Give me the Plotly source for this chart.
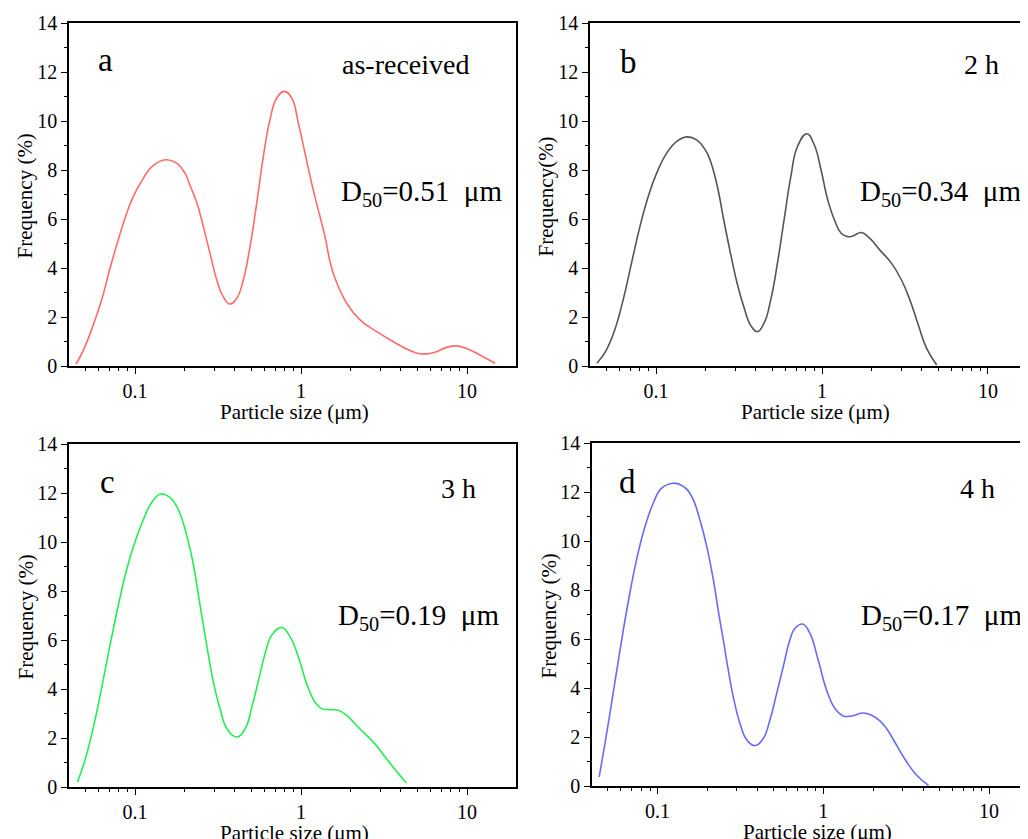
import plotly.graph_objects as go

# ---- data (particle size in µm, frequency in %) ----
a_size = [0.0441, 0.0489, 0.0561, 0.0630, 0.0707, 0.0793, 0.0871, 0.0977, 0.1123, 0.1289, 0.1530,
          0.1782, 0.2000, 0.214, 0.236, 0.258, 0.283, 0.311, 0.340, 0.373, 0.410, 0.449, 0.493,
          0.541, 0.593, 0.650, 0.714, 0.794, 0.879, 0.964, 1.057, 1.159, 1.270, 1.395, 1.495,
          1.603, 1.884, 2.267, 2.856, 3.599, 4.535, 5.333, 6.268, 7.543, 8.665, 10.19, 12.26, 14.75]
a_freq = [0.08, 0.65, 1.68, 2.70, 3.99, 5.15, 6.04, 6.92, 7.67, 8.19, 8.42,
          8.28, 7.87, 7.39, 6.65, 5.69, 4.60, 3.51, 2.83, 2.53, 2.76, 3.51, 4.87,
          6.65, 8.55, 10.05, 10.94, 11.21, 10.94, 9.91, 8.69, 7.46, 6.37, 5.28, 4.26,
          3.58, 2.56, 1.88, 1.40, 0.99, 0.63, 0.49, 0.54, 0.76, 0.82, 0.68, 0.41, 0.11]

b_size = [0.0441, 0.0502, 0.0564, 0.0634, 0.0712, 0.0800, 0.0898, 0.1009, 0.1160, 0.1334, 0.1534,
          0.1764, 0.1982, 0.212, 0.233, 0.256, 0.281, 0.308, 0.338, 0.371, 0.407, 0.447, 0.491,
          0.539, 0.591, 0.649, 0.712, 0.811, 0.898, 0.986, 1.083, 1.189, 1.304, 1.431, 1.55,
          1.723, 1.936, 2.226, 2.619, 3.012, 3.383, 3.801, 4.269, 4.909]
b_freq = [0.11, 0.65, 1.47, 2.70, 4.20, 5.69, 6.92, 7.87, 8.69, 9.17, 9.35,
          9.22, 8.82, 8.40, 7.40, 5.96, 4.60, 3.38, 2.42, 1.67, 1.40, 1.74, 2.70,
          4.20, 5.96, 7.73, 8.96, 9.48, 9.03, 8.01, 6.78, 5.96, 5.42, 5.28, 5.32,
          5.45, 5.22, 4.74, 4.20, 3.51, 2.70, 1.68, 0.72, 0.04]

c_size = [0.0451, 0.0506, 0.0568, 0.0637, 0.0714, 0.0802, 0.0900, 0.1009, 0.1132, 0.1271, 0.1426,
          0.1600, 0.1750, 0.188, 0.206, 0.226, 0.242, 0.259, 0.278, 0.298, 0.327, 0.358, 0.411,
          0.461, 0.506, 0.555, 0.608, 0.667, 0.766, 0.859, 0.964, 1.081, 1.213, 1.330, 1.493,
          1.675, 1.879, 2.109, 2.259, 2.780, 3.266, 3.750, 4.305]
c_freq = [0.20, 1.23, 2.59, 4.22, 5.93, 7.56, 8.99, 10.08, 10.97, 11.65, 11.96,
          11.85, 11.55, 11.10, 10.21, 8.99, 7.76, 6.54, 5.31, 4.22, 3.13, 2.38, 2.04,
          2.38, 3.27, 4.36, 5.45, 6.20, 6.51, 6.13, 5.31, 4.22, 3.47, 3.20, 3.16,
          3.13, 2.93, 2.59, 2.38, 1.77, 1.16, 0.65, 0.16]

d_size = [0.0444, 0.0481, 0.0527, 0.0593, 0.0665, 0.0746, 0.0839, 0.0942, 0.1057, 0.1244, 0.1430,
          0.1604, 0.180, 0.198, 0.217, 0.232, 0.249, 0.267, 0.286, 0.314, 0.344, 0.387, 0.434,
          0.476, 0.523, 0.573, 0.628, 0.674, 0.750, 0.830, 0.931, 1.047, 1.175, 1.319, 1.482,
          1.740, 1.954, 2.196, 2.411, 2.771, 3.186, 3.659, 4.303]
d_freq = [0.37, 1.73, 3.37, 5.55, 7.52, 9.23, 10.59, 11.55, 12.16, 12.36, 12.23,
          11.82, 10.86, 9.77, 8.41, 7.18, 5.96, 4.73, 3.64, 2.55, 1.90, 1.65, 1.94,
          2.69, 3.78, 4.87, 5.96, 6.44, 6.61, 6.23, 5.14, 3.91, 3.16, 2.86, 2.86,
          2.98, 2.89, 2.66, 2.34, 1.66, 0.98, 0.44, 0.03]

panel_letters = ["a", "b", "c", "d"]
panel_labels = ["as-received", "2 h", "3 h", "4 h"]
d50_values = ["0.51", "0.34", "0.19", "0.17"]
y_titles = ["Frequency (%)", "Frequency(%)", "Frequency (%)", "Frequency (%)"]
x_title = "Particle size (μm)"
colors = ["#FF6B6B", "#555555", "#22EE55", "#6A6AF8"]

# figure drawn inside the page body (8 px default body margin)
OFF = 8
W, H = 1020, 831
FONT = "'Liberation Serif', 'Times New Roman', Times, serif"


def px(x):
    return (x - OFF) / W


def py(y):
    return 1 - (y - OFF) / H


sizes = [a_size, b_size, c_size, d_size]
freqs = [a_freq, b_freq, c_freq, d_freq]

# plot-area boxes in viewport pixels: left, right, top, bottom
boxes = [(69, 516, 23, 366), (590, 1028, 23, 366), (69, 516, 444, 787), (592, 1028, 443, 786)]
xranges = [[-1.3976, 1.295], [-1.3976, 1.241], [-1.3976, 1.295], [-1.396, 1.235]]

fig = go.Figure()
layout = dict(width=W, height=H, margin=dict(l=0, r=0, t=0, b=0, autoexpand=False),
              paper_bgcolor="white", plot_bgcolor="white", showlegend=False,
              font=dict(family=FONT, color="black"))
annotations = []

for i in range(4):
    n = "" if i == 0 else str(i + 1)
    fig.add_trace(go.Scatter(x=sizes[i], y=freqs[i], mode="lines",
                             line=dict(color=colors[i], width=1.6, shape="spline", smoothing=1.3),
                             xaxis="x" + n, yaxis="y" + n, hoverinfo="skip"))
    l, r, t, b = boxes[i]
    right_panel = i % 2 == 1
    layout["xaxis" + n] = dict(
        domain=[px(l), min(px(r), 1.0)], anchor="y" + n, type="log", range=xranges[i],
        automargin=False,
        showgrid=False, zeroline=False, showline=True, linecolor="black", linewidth=1.5,
        mirror=True, ticks="outside", ticklen=6, tickwidth=1.3, tickcolor="black",
        tickvals=[0.1, 1, 10], ticktext=["0.1", "1", "10"],
        tickfont=dict(family=FONT, size=20, color="black"),
        minor=dict(ticks="outside", ticklen=3.5, tickwidth=1.2, tickcolor="black",
                   tickvals=[0.05, 0.06, 0.07, 0.08, 0.09, 0.2, 0.3, 0.4, 0.5, 0.6, 0.7, 0.8, 0.9,
                             2, 3, 4, 5, 6, 7, 8, 9, 20], showgrid=False),
        fixedrange=True)
    layout["yaxis" + n] = dict(
        domain=[py(b), py(t)], anchor="x" + n, range=[0, 14], automargin=False,
        showgrid=False, zeroline=False, showline=True, linecolor="black", linewidth=1.5,
        mirror=False if right_panel else True,
        ticks="outside", ticklen=6, tickwidth=1.3, tickcolor="black", dtick=2, tick0=0,
        tickfont=dict(family=FONT, size=20, color="black"),
        minor=dict(ticks="outside", ticklen=3.5, tickwidth=1.2, tickcolor="black", dtick=1,
                   showgrid=False),
        fixedrange=True)

    # axis titles
    xc = (l + (r if not right_panel else l + 447)) / 2 + 2
    annotations.append(dict(text=x_title, x=px(xc), y=py(b + 46), xref="paper", yref="paper",
                            showarrow=False, xanchor="center", yanchor="middle",
                            font=dict(family=FONT, size=21, color="black")))
    annotations.append(dict(text=y_titles[i], x=px(l - 44), y=py((t + b) / 2 + 2),
                            xref="paper", yref="paper", showarrow=False, textangle=-90,
                            xanchor="center", yanchor="middle",
                            font=dict(family=FONT, size=21, color="black")))

# panel letters, labels, D50 texts (viewport pixel centres)
letter_pos = [(105, 60), (628, 62), (107, 482), (627, 482)]
label_pos = [(405, 65), (981, 65), (458, 488), (977, 488)]
d50_pos = [(421, 193), (940, 193), (418, 617), (941, 617)]
for i in range(4):
    annotations.append(dict(text=panel_letters[i], x=px(letter_pos[i][0]), y=py(letter_pos[i][1]),
                            xref="paper", yref="paper", showarrow=False, xanchor="center",
                            yanchor="middle", font=dict(family=FONT, size=33, color="black")))
    annotations.append(dict(text=panel_labels[i], x=px(label_pos[i][0]), y=py(label_pos[i][1]),
                            xref="paper", yref="paper", showarrow=False, xanchor="center",
                            yanchor="middle", font=dict(family=FONT, size=28, color="black")))
    annotations.append(dict(text="D<sub>50</sub>=" + d50_values[i] + "  μm",
                            x=px(d50_pos[i][0]), y=py(d50_pos[i][1]),
                            xref="paper", yref="paper", showarrow=False, xanchor="center",
                            yanchor="middle", font=dict(family=FONT, size=29, color="black")))

layout["annotations"] = annotations
fig.update_layout(**layout)
fig.write_html("out.html", config={"displayModeBar": False})
